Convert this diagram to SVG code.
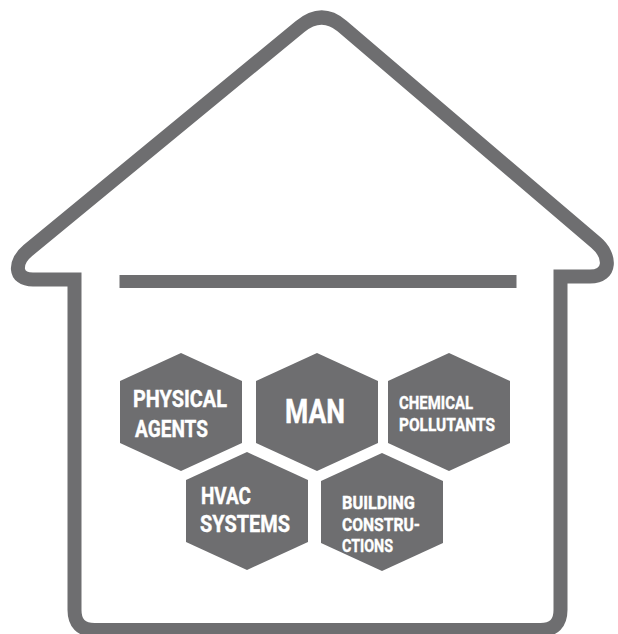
<svg xmlns="http://www.w3.org/2000/svg" width="618" height="634" viewBox="0 0 618 634">
<style>
.line{fill:none;stroke:#6e6e70;stroke-width:14;stroke-linejoin:miter;stroke-miterlimit:10}
.hex{fill:#6e6e70}
.t{fill:#ffffff;stroke:#ffffff;stroke-width:0.4;font-family:Roboto,"Liberation Sans",sans-serif;font-weight:bold}
.b{font-size:23.5px}
.s{font-size:19px}
.m{font-size:32.5px}
</style>
<defs>
<polygon id="hexShape" points="0,-59 61,-31 61,31 0,59 -61,31 -61,-31"/>
</defs>
<rect width="618" height="634" fill="#ffffff"/>
<g id="house">
<path class="line" d="M 74.5 279.5 L 33 279.5 C 13 279.5 14.5 261.5 28 250.4 L 300 26.6 Q 321.7 8.7 342 26 L 596 242.7 C 610.8 255.3 612 276.5 590 276.5 L 560.5 276.5 L 560.5 610 Q 560.5 630 540.5 630 L 94.5 630 Q 74.5 630 74.5 610 Z"/>
<line class="line" x1="119.5" y1="281.5" x2="516.5" y2="281.5" style="stroke-width:13"/>
</g>
<g id="connectors"></g>
<g id="physical-agents">
<use href="#hexShape" class="hex" x="181" y="412"/>
<text class="t b" x="133" y="406.5" textLength="94" lengthAdjust="spacingAndGlyphs">PHYSICAL</text>
<text class="t b" x="135" y="436.5" textLength="73" lengthAdjust="spacingAndGlyphs">AGENTS</text>
</g>
<g id="man">
<use href="#hexShape" class="hex" x="317" y="412"/>
<text class="t m" x="285" y="422.5" textLength="60" lengthAdjust="spacingAndGlyphs">MAN</text>
</g>
<g id="chemical-pollutants">
<use href="#hexShape" class="hex" x="449" y="412"/>
<text class="t s" x="399" y="409" textLength="74" lengthAdjust="spacingAndGlyphs">CHEMICAL</text>
<text class="t s" x="399" y="431" textLength="96" lengthAdjust="spacingAndGlyphs">POLLUTANTS</text>
</g>
<g id="hvac-systems">
<use href="#hexShape" class="hex" x="247" y="511"/>
<text class="t b" x="201" y="504" textLength="50" lengthAdjust="spacingAndGlyphs">HVAC</text>
<text class="t b" x="200" y="531.5" textLength="90" lengthAdjust="spacingAndGlyphs">SYSTEMS</text>
</g>
<g id="building-constructions">
<use href="#hexShape" class="hex" x="382" y="512"/>
<text class="t s" x="342" y="508.5" textLength="73" lengthAdjust="spacingAndGlyphs">BUILDING</text>
<text class="t s" x="342" y="530.5" textLength="78" lengthAdjust="spacingAndGlyphs">CONSTRU-</text>
<text class="t s" x="342" y="552" textLength="51" lengthAdjust="spacingAndGlyphs">CTIONS</text>
</g>
</svg>
